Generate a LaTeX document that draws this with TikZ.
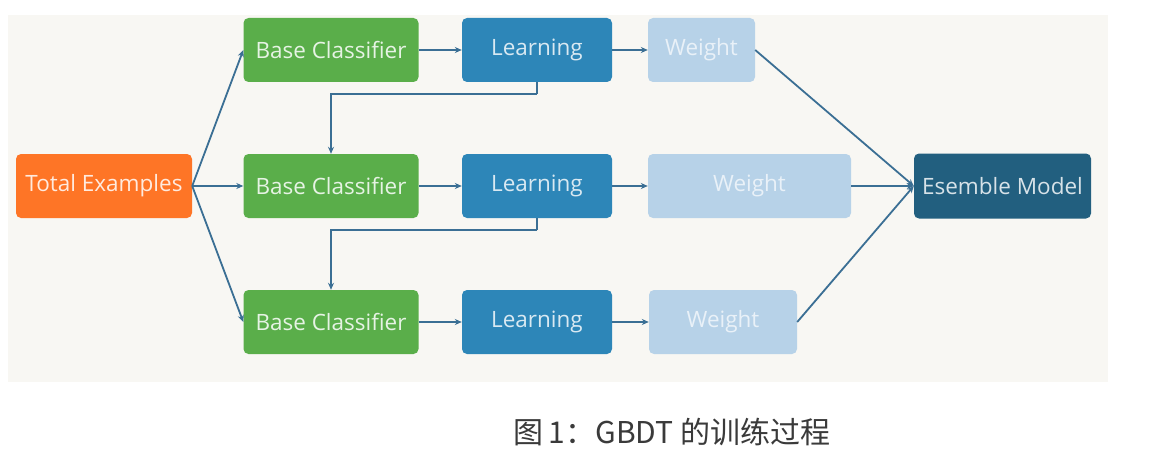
\documentclass[tikz,border=0pt]{standalone}
\usepackage{fontspec}
\setmainfont{Open Sans}
\newfontfamily\cjk{Noto Sans CJK SC}
\usetikzlibrary{arrows.meta}
\definecolor{panel}{HTML}{F8F7F3}
\definecolor{orangefill}{HTML}{FE7526}
\definecolor{greenfill}{HTML}{5AAE4A}
\definecolor{learnfill}{HTML}{2D86B8}
\definecolor{weightfill}{HTML}{B7D2E8}
\definecolor{modelfill}{HTML}{225F7F}
\definecolor{linecol}{HTML}{3B6F94}
\definecolor{captioncol}{HTML}{3A3A3A}
\tikzset{
  box/.style={rounded corners=5pt, inner sep=0pt, font=\fontsize{22.5}{26}\selectfont},
  orangebox/.style={box, fill=orangefill, text=white!85!orangefill},
  greenbox/.style={box, fill=greenfill, text=white!85!greenfill, minimum width=175pt, minimum height=64pt},
  learnbox/.style={box, fill=learnfill, text=white!82!learnfill, minimum width=150pt, minimum height=64pt},
  weightbox/.style={box, fill=weightfill, text=white!70!weightfill, minimum height=64pt},
  modelbox/.style={box, fill=modelfill, text=white!82!modelfill},
  conn/.style={draw=linecol, line width=1.8pt, -{Stealth[length=7pt,width=6pt]}},
  plain/.style={draw=linecol, line width=1.8pt}
}
\begin{document}
\begin{tikzpicture}[x=1pt,y=-1pt]
\useasboundingbox (0,0) rectangle (1160,452);
\fill[white] (0,0) rectangle (1160,452);
\fill[panel] (8,15) rectangle (1108,382);

\node[orangebox, minimum width=176pt, minimum height=64pt] (te) at (104,186) {Total Examples};

\node[greenbox] (bc1) at (331,50) {Base Classifier};
\node[greenbox] (bc2) at (331,186) {Base Classifier};
\node[greenbox] (bc3) at (331,322) {Base Classifier};

\node[learnbox] (l1) at (537,50) {Learning};
\node[learnbox] (l2) at (537,186) {Learning};
\node[learnbox] (l3) at (537,322) {Learning};

\node[weightbox, minimum width=107pt] (w1) at (701.5,50) {Weight};
\node[weightbox, minimum width=203pt] (w2) at (749.5,186) {Weight};
\node[weightbox, minimum width=148pt] (w3) at (723,322) {Weight};

\node[modelbox, minimum width=177pt, minimum height=65pt] (em) at (1002.5,186) {Esemble Model};

\draw[conn] (te.east) -- (bc1.west);
\draw[conn] (te.east) -- (bc2.west);
\draw[conn] (te.east) -- (bc3.west);

\draw[conn] (bc1.east) -- (l1.west);
\draw[conn] (bc2.east) -- (l2.west);
\draw[conn] (bc3.east) -- (l3.west);

\draw[conn] (l1.east) -- (w1.west);
\draw[conn] (l2.east) -- (w2.west);
\draw[conn] (l3.east) -- (w3.west);

\coordinate (f1) at (537,94);
\coordinate (f2) at (537,230);
\draw[plain] (l1.south) -- (f1);
\draw[conn] (f1) -| (bc2.north);
\draw[plain] (l2.south) -- (f2);
\draw[conn] (f2) -| (bc3.north);

\draw[conn] (w1.east) -- (em.west);
\draw[conn] (w2.east) -- (em.west);
\draw[conn] (w3.east) -- (em.west);

\node[text=captioncol, font=\cjk\fontsize{30}{34}\selectfont, inner sep=0pt] (cap) at (672,432) {图\,1：GBDT 的训练过程};
\end{tikzpicture}
\end{document}
